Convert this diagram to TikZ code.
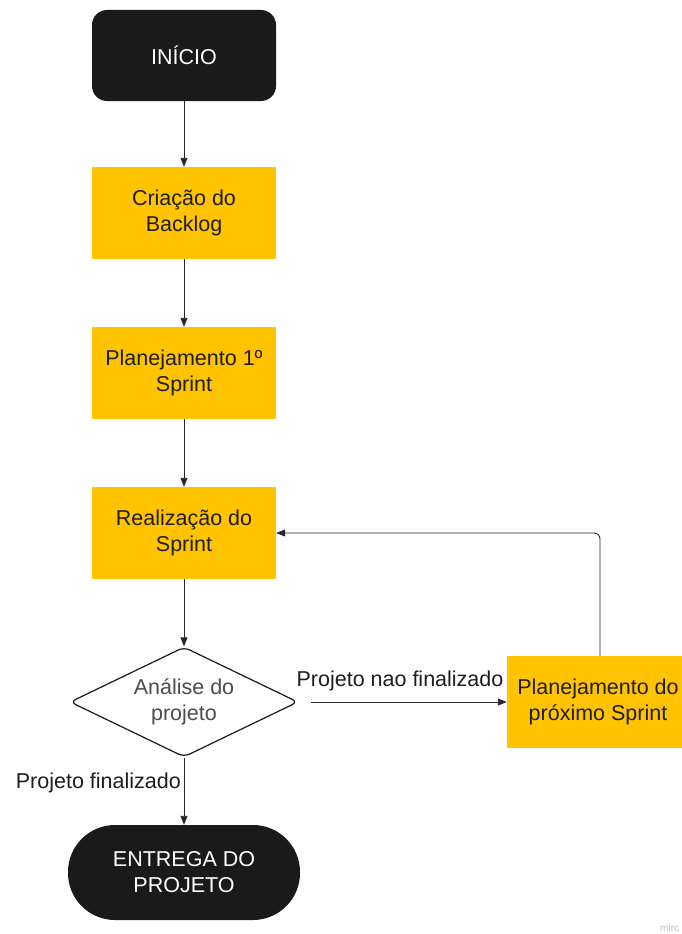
\documentclass[tikz,border=0pt]{standalone}
\usepackage{fontspec}
\setmainfont{Liberation Sans}
\usetikzlibrary{arrows.meta,shapes.geometric}
\definecolor{boxyellow}{RGB}{255,195,0}
\definecolor{boxblack}{RGB}{26,26,26}
\definecolor{linegray}{RGB}{40,40,40}
\definecolor{txtdark}{RGB}{30,30,30}
\begin{document}
\begin{tikzpicture}[x=1pt,y=-1pt,
  txt/.style={font=\fontsize{21.5}{26}\selectfont, align=center},
  yellowbox/.style={txt, fill=boxyellow, text=txtdark, minimum width=184pt, minimum height=92pt, inner sep=0pt},
  blackbox/.style={txt, fill=boxblack, text=white, inner sep=0pt},
  decision/.style={txt, diamond, draw=boxblack, line width=1.2pt, fill=white, text=black!70, minimum width=228pt, minimum height=110pt, aspect=2.07, inner sep=0pt, rounded corners=6pt},
  flow/.style={draw=linegray, line width=0.9pt, -{Triangle[length=9pt,width=7pt]}},
  lbl/.style={font=\fontsize{21.5}{26}\selectfont, text=txtdark, inner sep=0pt}
]
\useasboundingbox (0,0) rectangle (682,934);
\fill[white] (0,0) rectangle (682,934);

\node[blackbox, minimum width=184pt, minimum height=91pt, rounded corners=15pt] (inicio) at (184,55.5) {INÍCIO};
\node[yellowbox] (backlog) at (184,213) {Criação do\\Backlog};
\node[yellowbox] (plan1) at (184,373) {Planejamento 1º\\Sprint};
\node[yellowbox] (real) at (184,533) {Realização do\\Sprint};
\node[decision] (anal) at (184,702) {Análise do\\projeto};
\node[yellowbox, minimum width=175pt] (prox) at (594.5,702) {\hspace*{7pt}Planejamento do\\\hspace*{7pt}próximo Sprint};
\node[blackbox, minimum width=232pt, minimum height=95pt, rounded corners=47pt] (entrega) at (184,872.5) {ENTREGA DO\\PROJETO};

\draw[flow] (inicio) -- (backlog);
\draw[flow] (backlog) -- (plan1);
\draw[flow] (plan1) -- (real);
\draw[flow] (real) -- (anal);
\draw[flow] ([xshift=12pt]anal.east) -- (prox.west);
\draw[flow, rounded corners=6pt] ([xshift=5.5pt]prox.north) |- (real.east);
\draw[flow] (anal) -- (entrega);

\node[lbl] (lnf) at (400,681) {Projeto nao finalizado};
\node[lbl, anchor=east] (lf) at (181,783) {Projeto finalizado};
\node[font=\fontsize{10}{12}\selectfont, text=black!25, anchor=west, inner sep=0pt] (wm) at (660,928) {mirc};
\end{tikzpicture}
\end{document}
